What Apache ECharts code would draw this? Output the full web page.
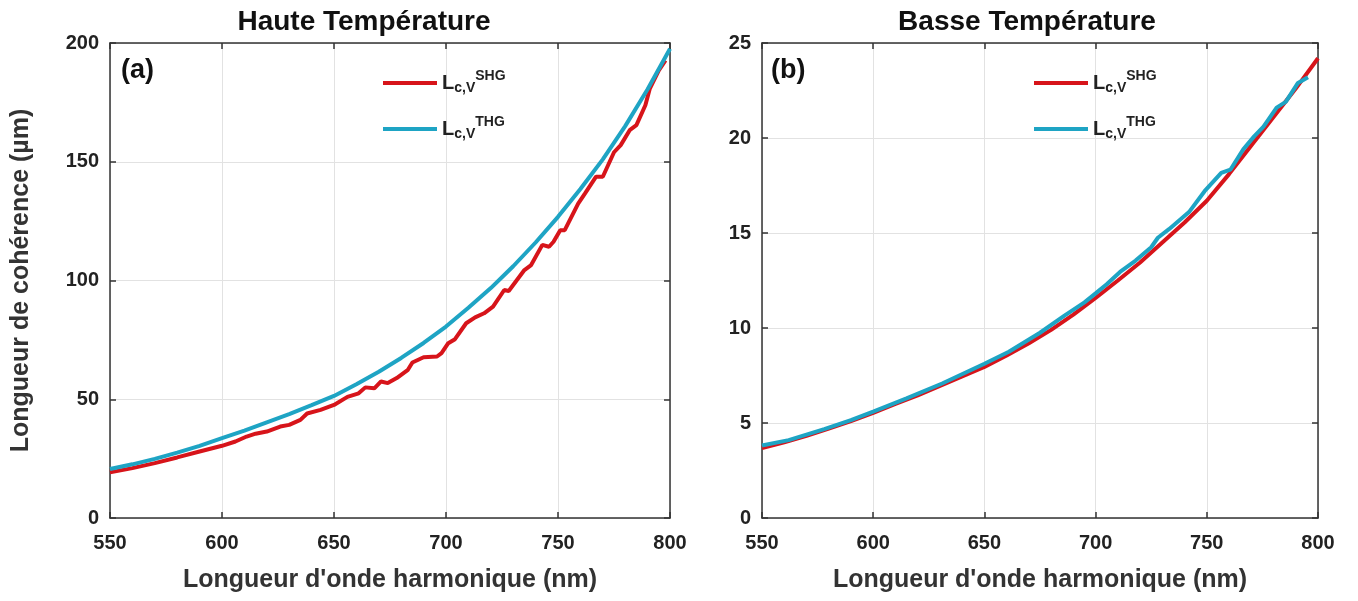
<!DOCTYPE html>
<html>
<head>
<meta charset="utf-8">
<script src="https://cdn.jsdelivr.net/npm/echarts@6/dist/echarts.min.js"></script>
<style>
  html, body { margin: 0; padding: 0; background: #fff; }
  #main { width: 1358px; height: 601px; }
</style>
</head>
<body>
<div id="main"></div>
<script>
// Haute Température (a)
var hautShgX = [550, 560, 570, 580, 590, 600, 606, 611, 615, 620, 626, 630, 635, 638, 644, 650, 656, 661, 664, 668, 671, 674, 678, 683, 685, 690, 696, 698, 701, 704, 709, 713, 717, 721, 726, 728, 735, 738, 743, 746, 748, 751, 753, 759, 762, 767, 770, 775, 778, 782, 785, 789, 791, 795, 798];
var hautShgY = [19.2, 21.0, 23.1, 25.5, 28.0, 30.4, 32.2, 34.3, 35.5, 36.4, 38.5, 39.2, 41.3, 44.0, 45.5, 47.6, 51.0, 52.5, 55.0, 54.6, 57.5, 56.8, 58.9, 62.4, 65.5, 67.7, 68.0, 69.4, 73.6, 75.3, 82.0, 84.5, 86.2, 89.0, 96.0, 95.6, 104.4, 106.5, 115.0, 114.2, 116.3, 121.2, 121.2, 132.4, 136.6, 143.7, 143.7, 154.0, 157.0, 163.3, 165.4, 173.8, 180.8, 188.5, 192.7];
var hautThgX = [550, 560, 570, 580, 590, 600, 610, 620, 630, 640, 650, 660, 670, 680, 690, 700, 710, 720, 730, 740, 750, 760, 770, 780, 790, 800];
var hautThgY = [20.6, 22.6, 24.9, 27.5, 30.4, 33.6, 36.8, 40.3, 43.7, 47.5, 51.4, 56.3, 61.6, 67.4, 73.7, 80.6, 88.5, 96.8, 106.0, 116.0, 126.8, 138.5, 151.0, 165.0, 180.5, 197.6];

// Basse Température (b)
var basseShgX = [550, 560, 570, 580, 590, 600, 610, 620, 630, 640, 650, 660, 670, 680, 690, 700, 710, 720, 730, 740, 750, 760, 770, 780, 790, 800];
var basseShgY = [3.68, 3.98, 4.32, 4.70, 5.10, 5.53, 6.00, 6.45, 6.95, 7.45, 7.95, 8.55, 9.20, 9.90, 10.70, 11.58, 12.50, 13.45, 14.50, 15.55, 16.70, 18.10, 19.60, 21.10, 22.60, 24.20];
var basseThgX = [550, 562, 578, 590, 600, 615, 631, 650, 661, 675, 686, 695, 700, 705, 711, 718, 725, 728, 733, 742, 749, 756.5, 760.6, 766.4, 771.4, 775.5, 781.4, 785.5, 791, 795.5];
var basseThgY = [3.82, 4.10, 4.68, 5.15, 5.60, 6.30, 7.08, 8.12, 8.75, 9.75, 10.65, 11.35, 11.82, 12.30, 12.95, 13.55, 14.25, 14.75, 15.20, 16.10, 17.20, 18.16, 18.33, 19.40, 20.10, 20.60, 21.60, 21.90, 22.90, 23.20];

var titles = ['Haute Température', 'Basse Température'];
var panels = ['(a)', '(b)'];
var xName = "Longueur d'onde harmonique (nm)";
var yName = 'Longueur de cohérence (µm)';

var RED = '#d7141a';
var BLUE = '#1ea4c4';
var FONT = 'Liberation Sans';

function pairs(xs, ys) {
    return xs.map(function (x, i) { return [x, ys[i]]; });
}

var chart = echarts.init(document.getElementById('main'));

var grids = [
    { left: 110, right: 688, top: 43, bottom: 83 },
    { left: 762, right: 40, top: 43, bottom: 83 }
];

var labelStyle = { fontFamily: FONT, fontWeight: 'bold', fontSize: 20, color: '#222' };
var nameStyle = { fontFamily: FONT, fontWeight: 'bold', fontSize: 25, color: '#333' };

function xAxes(i) {
    return [{
        type: 'value', gridIndex: i, min: 550, max: 800, interval: 50,
        name: xName, nameLocation: 'middle', nameGap: 50,
        nameTextStyle: nameStyle,
        axisLine: { show: true, lineStyle: { color: '#333', width: 1.5 } },
        axisTick: { show: true, inside: true, length: 6, lineStyle: { color: '#333', width: 1.5 } },
        axisLabel: Object.assign({ margin: 15 }, labelStyle),
        splitLine: { show: true, lineStyle: { color: '#e2e2e2', width: 1 } }
    }, {
        type: 'value', gridIndex: i, min: 550, max: 800, interval: 50, position: 'top',
        axisLine: { show: true, onZero: false, lineStyle: { color: '#333', width: 1.5 } },
        axisTick: { show: true, inside: true, length: 6, lineStyle: { color: '#333', width: 1.5 } },
        axisLabel: { show: false },
        splitLine: { show: false }
    }];
}

function yAxes(i, max, interval) {
    return [{
        type: 'value', gridIndex: i, min: 0, max: max, interval: interval,
        name: i === 0 ? yName : '', nameLocation: 'middle', nameGap: 76, nameRotate: 90,
        nameTextStyle: nameStyle,
        axisLine: { show: true, lineStyle: { color: '#333', width: 1.5 } },
        axisTick: { show: true, inside: true, length: 6, lineStyle: { color: '#333', width: 1.5 } },
        axisLabel: Object.assign({ margin: 11 }, labelStyle),
        splitLine: { show: true, lineStyle: { color: '#e2e2e2', width: 1 } }
    }, {
        type: 'value', gridIndex: i, min: 0, max: max, interval: interval, position: 'right',
        axisLine: { show: true, onZero: false, lineStyle: { color: '#333', width: 1.5 } },
        axisTick: { show: true, inside: true, length: 6, lineStyle: { color: '#333', width: 1.5 } },
        axisLabel: { show: false },
        splitLine: { show: false }
    }];
}

function lineSeries(name, color, xi, yi, data) {
    return {
        name: name, type: 'line', xAxisIndex: xi, yAxisIndex: yi,
        data: data, showSymbol: false, symbol: 'none', smooth: false,
        lineStyle: { color: color, width: 4 }, itemStyle: { color: color },
        z: name === 'SHG' ? 3 : 4
    };
}

// legend text: L with subscript c,V and superscript SHG/THG
function legendAt(left) {
    return {
        left: left, top: 63, orient: 'vertical', itemGap: 16,
        itemWidth: 54, itemHeight: 4, icon: 'rect',
        data: ['SHG', 'THG'],
        formatter: function (name) { return '{L|L}{s|c,V}{p|' + name + '}'; },
        textStyle: {
            lineHeight: 30,
            rich: {
                L: { fontFamily: FONT, fontWeight: 'bold', fontSize: 20, color: '#222', lineHeight: 30, verticalAlign: 'middle' },
                s: { fontFamily: FONT, fontWeight: 'bold', fontSize: 14, color: '#222', lineHeight: 30, verticalAlign: 'bottom', padding: [0, 0, 3, 0] },
                p: { fontFamily: FONT, fontWeight: 'bold', fontSize: 14, color: '#222', lineHeight: 30, verticalAlign: 'top', padding: [1, 0, 0, 0] }
            }
        }
    };
}

var titleStyle = { fontFamily: FONT, fontWeight: 'bold', fontSize: 28, color: '#111' };

var option = {
    animation: false,
    backgroundColor: '#fff',
    title: [
        { text: titles[0], left: 359, top: 3, textAlign: 'center', textStyle: titleStyle },
        { text: titles[1], left: 1022, top: 3, textAlign: 'center', textStyle: titleStyle }
    ],
    legend: [legendAt(378), legendAt(1029)],
    grid: grids,
    xAxis: xAxes(0).concat(xAxes(1)),
    yAxis: yAxes(0, 200, 50).concat(yAxes(1, 25, 5)),
    graphic: [
        { type: 'text', left: 121, top: 57, style: { text: panels[0], font: 'bold 27px "Liberation Sans"', fill: '#111' } },
        { type: 'text', left: 771, top: 57, style: { text: panels[1], font: 'bold 27px "Liberation Sans"', fill: '#111' } }
    ],
    series: [
        lineSeries('SHG', RED, 0, 0, pairs(hautShgX, hautShgY)),
        lineSeries('THG', BLUE, 0, 0, pairs(hautThgX, hautThgY)),
        lineSeries('SHG', RED, 2, 2, pairs(basseShgX, basseShgY)),
        lineSeries('THG', BLUE, 2, 2, pairs(basseThgX, basseThgY))
    ]
};

chart.setOption(option);
</script>
</body>
</html>
